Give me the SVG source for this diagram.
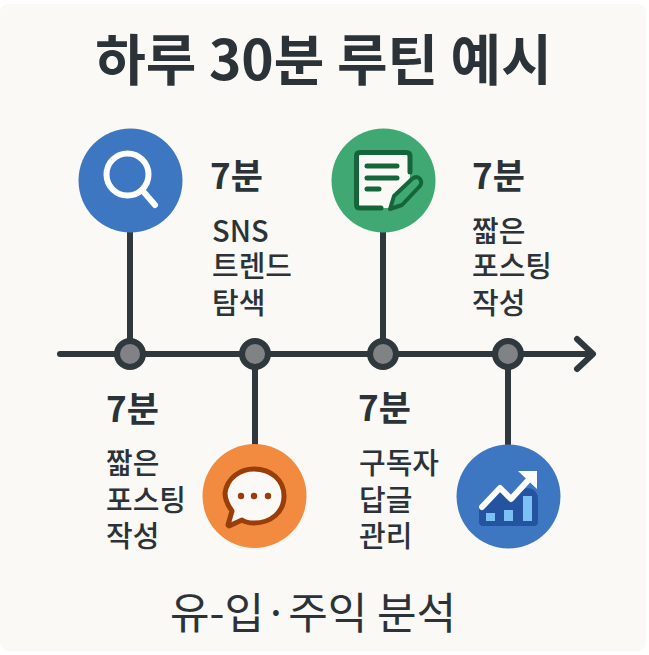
<svg xmlns="http://www.w3.org/2000/svg" width="649" height="655" viewBox="0 0 649 655">
<style>
text{font-family:"Noto Sans CJK KR","Noto Sans",sans-serif;fill:#2c3338}
.title{font-size:55px;font-weight:700}
.sub{font-size:43px;font-weight:400}
.time{font-size:35px;font-weight:700}
.desc{font-size:29px;font-weight:500}
.line{stroke:#2f383d;stroke-width:6;fill:none;stroke-linecap:round;stroke-linejoin:round}
.dot{fill:#808285;stroke:#2f383d;stroke-width:6}
</style>
<rect width="649" height="655" fill="#ffffff"/>
<rect x="0" y="4" width="646" height="647" rx="8" fill="#faf9f5"/>
<g id="connectors">
<path class="line" d="M60 354H592M577 339L593 354L577 369"/>
<path class="line" style="stroke-linecap:butt" d="M130 232V354M255 354V445M383 232V354M508 354V446"/>
</g>
<g id="title"><text class="title" x="323.500" y="80" text-anchor="middle">하루 30분 루틴 예시</text></g>
<g id="node-search">
<circle cx="130.500" cy="180.500" r="52" fill="#3d77c2"/>
<circle cx="127.500" cy="174.500" r="21" fill="none" stroke="#fff" stroke-width="6"/>
<path d="M142 190L155 205" stroke="#fff" stroke-width="6" stroke-linecap="round"/>
<circle class="dot" cx="130" cy="354" r="13"/>
<text class="time" x="210" y="189">7분</text>
<text class="desc"><tspan x="212" y="242">SNS</tspan><tspan x="212" y="277">트렌드</tspan><tspan x="212" y="314">탐색</tspan></text>
</g>
<g id="node-write">
<circle cx="383.500" cy="180.500" r="52" fill="#40a873"/>
<path d="M381 208H360Q356.500 208 356.500 205V156Q356.500 152.500 360 152.500H406Q410 152.500 410 156V178L392 208Z" fill="#faf9f5"/>
<path d="M381 208H360Q356.500 208 356.500 205V156Q356.500 152.500 360 152.500H406Q410 152.500 410 156V172" fill="none" stroke="#14663a" stroke-width="5" stroke-linecap="round"/>
<path d="M367 166H397M367 178H397M367 189H379" stroke="#14663a" stroke-width="5" stroke-linecap="round" fill="none"/>
<path d="M390 209L394 196L412 179Q417 175 420 179Q423 183 419 187L402 205Z" fill="#40a873" stroke="#14663a" stroke-width="4" stroke-linejoin="round"/>
<circle class="dot" cx="383" cy="354" r="13"/>
<text class="time" x="472" y="189">7분</text>
<text class="desc"><tspan x="472" y="242">짧은</tspan><tspan x="472" y="277">포스팅</tspan><tspan x="472" y="314">작성</tspan></text>
</g>
<g id="node-chat">
<circle cx="254.500" cy="496" r="52" fill="#f28b3f"/>
<path d="M228 525L232 511C226 503 225 497 225 493C227 478 240 469 254 469C271 469 284 480 284 496C284 512 271 523 254 523C249 523 245 522 242 520L229 526Z" fill="#faf9f5" stroke="#9a3d08" stroke-width="5" stroke-linejoin="round"/>
<circle cx="241" cy="496" r="3.200" fill="#9a3d08"/><circle cx="254" cy="496" r="3.200" fill="#9a3d08"/><circle cx="268" cy="496" r="3.200" fill="#9a3d08"/>
<circle class="dot" cx="255" cy="354" r="13"/>
<text class="time" x="106" y="422">7분</text>
<text class="desc"><tspan x="106" y="474">짧은</tspan><tspan x="106" y="511">포스팅</tspan><tspan x="106" y="547">작성</tspan></text>
</g>
<g id="node-chart">
<circle cx="508.500" cy="496.500" r="52" fill="#3d77c2"/>
<path d="M479 526V507L499 487L510 499L526 488Q538 488 538 500V522Q538 526 534 526H483Q479 526 479 522Z" fill="#24549f"/>
<path d="M482 507L500 488L511 499L533 475" fill="none" stroke="#fff" stroke-width="6" stroke-linecap="round" stroke-linejoin="round"/>
<path d="M518 471H537V489Z" fill="#fff"/>
<rect x="486" y="513" width="9" height="8" fill="#7cc0f5"/><rect x="504" y="510" width="9" height="11" fill="#7cc0f5"/><rect x="523" y="496" width="9" height="25" fill="#7cc0f5"/>
<circle class="dot" cx="508" cy="354" r="13"/>
<text class="time" x="358" y="421">7분</text>
<text class="desc"><tspan x="359" y="474">구독자</tspan><tspan x="359" y="511">답글</tspan><tspan x="359" y="547">관리</tspan></text>
</g>
<g id="footer"><text class="sub" x="313" y="629" text-anchor="middle">유-입·주익 분석</text></g>
</svg>
